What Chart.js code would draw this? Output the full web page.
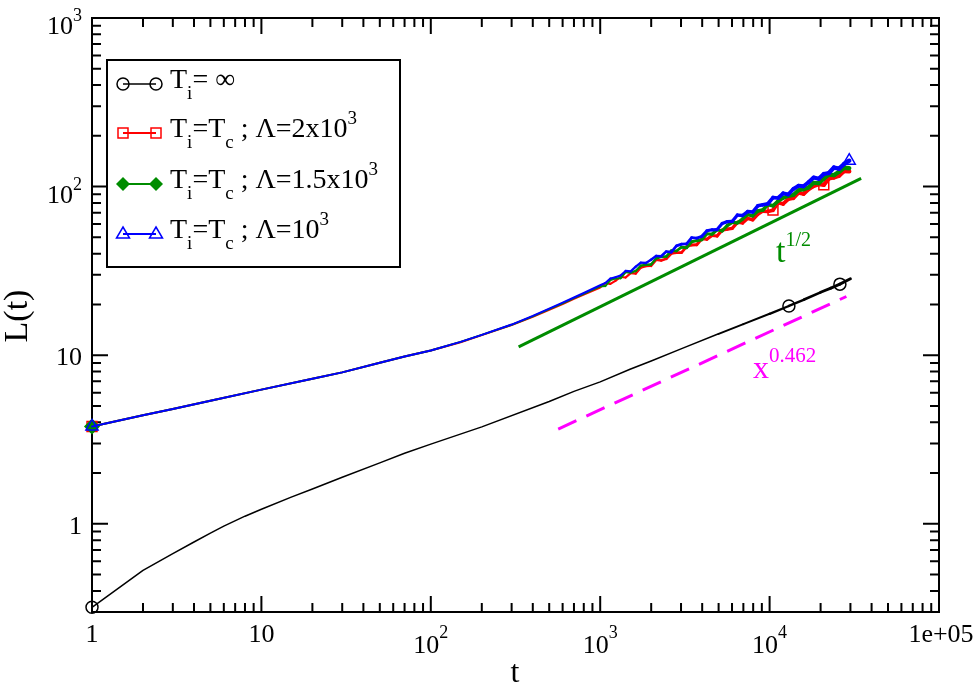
<!DOCTYPE html>
<html>
<head>
<meta charset="utf-8">
<script src="https://cdn.jsdelivr.net/npm/chart.js@4.4.1/dist/chart.umd.min.js"></script>
<style>
  html, body { margin: 0; padding: 0; background: #fff; }
  #wrap { width: 978px; height: 685px; position: relative; }
</style>
</head>
<body>
<div id="wrap"><canvas id="chart"></canvas></div>
<script>
// ---- data ----
const blackT = [1, 2, 3, 4, 5, 6, 8, 10, 15, 20, 30, 50, 70, 100, 200, 500, 700, 1000, 1500, 2000, 3000, 5000, 7000, 10000, 13000, 16000, 20000, 23000, 26000, 30000]
const blackL = [0.32, 0.53, 0.665, 0.78, 0.88, 0.97, 1.11, 1.22, 1.44, 1.61, 1.89, 2.30, 2.62, 2.97, 3.76, 5.32, 6.1, 6.95, 8.25, 9.25, 10.9, 13.4, 15.3, 17.6, 19.6, 21.4, 23.6, 25.0, 26.4, 28.4]
const blackMarks = [1, 13000, 26000]

const curveT = [1, 2, 3, 5, 10, 20, 30, 50, 70, 100, 150, 200, 300, 400, 500, 600, 700, 800,
  1000, 1072, 1148, 1230, 1318, 1413, 1514, 1622, 1738, 1862,
  1995, 2138, 2291, 2455, 2630, 2818, 3020, 3236, 3467, 3715,
  3981, 4266, 4571, 4898, 5248, 5623, 6026, 6457, 6918, 7413,
  7943, 8511, 9120, 9772, 10471, 11220, 12023, 12882, 13804, 14791,
  15849, 16982, 18197, 19498, 20893, 22387, 23988, 25704, 27542, 29512]
const redL = [3.78, 4.40, 4.80, 5.37, 6.25, 7.26, 7.91, 9.02, 9.82, 10.67, 11.95, 13.15, 15.1, 16.9, 18.6, 20.1, 21.6, 22.9,
  25.2, 26.7, 26.5, 27.6, 29.1, 28.9, 30.7, 30.5, 33.1, 33.8,
  33.9, 36.8, 36.5, 37.3, 40.1, 40.6, 40.6, 44.1, 45.1, 45.2,
  49.1, 48.7, 51.3, 50.9, 55.2, 55.9, 56.6, 61.4, 60.9, 64.8,
  63.6, 68.6, 71.6, 71.2, 72.5, 80.2, 78.9, 84.2, 85.4, 91.9,
  90.5, 96.5, 100.8, 103.3, 102.5, 111.7, 113.3, 116.1, 123.8, 123.1]
const greenL = [3.78, 4.40, 4.80, 5.37, 6.25, 7.26, 7.91, 9.02, 9.82, 10.67, 12.0, 13.2, 15.15, 17.0, 18.75, 20.3, 21.8, 23.15,
  25.6, 25.7, 27.9, 28.5, 28.6, 31.1, 30.9, 31.6, 34.0, 34.4,
  34.5, 37.5, 38.3, 38.5, 41.7, 41.5, 43.7, 43.4, 47.1, 47.8,
  48.4, 52.5, 52.2, 55.5, 54.6, 58.8, 61.3, 60.9, 64.2, 68.3,
  67.1, 71.6, 72.6, 78.2, 77.0, 82.1, 85.8, 87.9, 89.2, 95.1,
  96.4, 98.8, 105.3, 104.8, 111.6, 117.8, 117.1, 122.5, 129.3, 128.6]
const blueL = [3.78, 4.40, 4.80, 5.37, 6.25, 7.26, 7.91, 9.02, 9.82, 10.67, 12.0, 13.2, 15.2, 17.1, 18.9, 20.5, 22.0, 23.4,
  26.0, 26.8, 28.5, 29.0, 29.7, 31.6, 31.4, 33.5, 35.4, 35.2,
  36.8, 38.8, 38.6, 41.2, 40.9, 44.5, 45.6, 45.8, 49.8, 49.5,
  50.7, 54.7, 55.4, 55.6, 60.5, 62.0, 62.3, 67.8, 67.4, 71.1,
  70.7, 76.9, 78.0, 79.1, 86.1, 85.6, 91.3, 89.8, 96.8, 101.1,
  100.5, 106.2, 113.1, 111.4, 118.8, 120.5, 129.7, 127.7, 136.2, 142.4]
const redMarks = [1, 10471, 20893]
const greenMarks = [1]
const blueMarks = [1, 29512]

// guide lines
const halfT = [330, 34700]
const halfL = [11.2, 112]
const fitT = [565, 28400]
const fitL = [3.65, 22.3]

// tick labels: [base, superscript]
const xTickVals = [1, 10, 100, 1000, 10000, 100000]
const xTickLabels = [["1"], ["10"], ["10", "2"], ["10", "3"], ["10", "4"], ["1e+05"]]
const yTickVals = [1, 10, 100, 1000]
const yTickLabels = [["1"], ["10"], ["10", "2"], ["10", "3"]]

const FONT = '"Liberation Serif", "DejaVu Serif", serif'
const GREEN = "rgb(0,140,0)"

const pts = (ts, ls) => ts.map((t, i) => ({ x: t, y: ls[i] }))

// the noisy tail of the runs looks thicker: widen the stroke there
const noisyWidth = (base, extra, from) => (ctx) => {
  const t = ctx.p0.parsed.x
  if (t < from) return base
  return base + extra * Math.min(1, (Math.log10(t) - Math.log10(from)) / (4.47 - Math.log10(from)))
}

function series(label, ts, ls, color, width, extra, from, style, radius, marks, filled, order) {
  return {
    label: label,
    data: pts(ts, ls),
    borderColor: color,
    borderWidth: width,
    segment: { borderWidth: noisyWidth(width, extra, from) },
    borderJoinStyle: "round",
    borderCapStyle: "round",
    pointStyle: style,
    pointRadius: (ctx) => (ctx.raw && marks.includes(ctx.raw.x) ? radius : 0),
    pointBorderColor: color,
    pointBackgroundColor: filled ? color : "rgba(0,0,0,0)",
    pointBorderWidth: 1.5,
    tension: 0,
    clip: false,
    order: order,
  }
}

function rich(ctx, parts, x, y, align) {
  let w = 0
  parts.forEach((p) => {
    ctx.font = p[1] + "px " + FONT
    w += ctx.measureText(p[0]).width
  })
  let cx = align === "right" ? x - w : align === "center" ? x - w / 2 : x
  parts.forEach((p) => {
    ctx.font = p[1] + "px " + FONT
    ctx.fillText(p[0], cx, y + p[2])
    cx += ctx.measureText(p[0]).width
  })
}

function mark(ctx, style, x, y, color) {
  ctx.strokeStyle = color
  ctx.fillStyle = color
  ctx.lineWidth = 1.5
  ctx.beginPath()
  if (style === "circle") {
    ctx.arc(x, y, 6, 0, Math.PI * 2)
    ctx.stroke()
  } else if (style === "rect") {
    ctx.rect(x - 5, y - 5, 10, 10)
    ctx.stroke()
  } else if (style === "rectRot") {
    ctx.moveTo(x - 7, y); ctx.lineTo(x, y - 7); ctx.lineTo(x + 7, y); ctx.lineTo(x, y + 7)
    ctx.closePath()
    ctx.fill()
  } else {
    ctx.moveTo(x, y - 7); ctx.lineTo(x + 6.5, y + 4); ctx.lineTo(x - 6.5, y + 4)
    ctx.closePath()
    ctx.stroke()
  }
}

// frame + inward ticks (grace style), labels, legend
const frame = {
  id: "frame",
  beforeDatasetsDraw(chart) {
    const { ctx, chartArea: a, scales: { x, y } } = chart
    ctx.save()
    ctx.strokeStyle = "#000"
    ctx.lineWidth = 2
    ctx.strokeRect(a.left, a.top, a.right - a.left, a.bottom - a.top)
    ctx.beginPath()
    for (let n = 0; n <= 5; n++) {
      for (let m = 1; m <= 9; m++) {
        const v = m * Math.pow(10, n)
        if (v > 100000) break
        const px = x.getPixelForValue(v)
        const len = m === 1 ? 16 : 9
        ctx.moveTo(px, a.bottom); ctx.lineTo(px, a.bottom - len)
        ctx.moveTo(px, a.top); ctx.lineTo(px, a.top + len)
      }
    }
    for (let n = -1; n <= 3; n++) {
      for (let m = 1; m <= 9; m++) {
        const v = m * Math.pow(10, n)
        if (v < y.min || v > y.max * 1.0001) continue
        const py = y.getPixelForValue(v)
        const len = m === 1 ? 16 : 9
        ctx.moveTo(a.left, py); ctx.lineTo(a.left + len, py)
        ctx.moveTo(a.right, py); ctx.lineTo(a.right - len, py)
      }
    }
    ctx.stroke()
    ctx.restore()
  },
  afterDraw(chart) {
    const { ctx, chartArea: a, scales: { x, y } } = chart
    ctx.save()
    ctx.fillStyle = "#000"
    ctx.textBaseline = "alphabetic"
    ctx.textAlign = "left"
    // x tick labels
    xTickVals.forEach((v, i) => {
      const lab = xTickLabels[i]
      const px = x.getPixelForValue(v) + (lab[0] === "1e+05" ? 2 : 0)
      if (lab.length === 2) rich(ctx, [[lab[0], 26, 0], [lab[1], 18, -15]], px, a.bottom + 41, "center")
      else rich(ctx, [[lab[0], 26, 0]], px, a.bottom + 30, "center")
    })
    // y tick labels
    yTickVals.forEach((v, i) => {
      const lab = yTickLabels[i]
      const py = y.getPixelForValue(v)
      if (lab.length === 2) rich(ctx, [[lab[0], 26, 0], [lab[1], 18, -13]], a.left - 10, py + 16, "right")
      else rich(ctx, [[lab[0], 26, 0]], a.left - 10, py + 10, "right")
    })
    // axis titles
    ctx.font = "32px " + FONT
    ctx.textAlign = "center"
    ctx.fillText("t", 515, 682)
    ctx.save()
    ctx.font = "34px " + FONT
    ctx.translate(27, 316)
    ctx.rotate(-Math.PI / 2)
    ctx.fillText("L(t)", 0, 0)
    ctx.restore()
    ctx.textAlign = "left"
    // guide labels
    ctx.fillStyle = GREEN
    rich(ctx, [["t", 34, 0], ["1/2", 20, -16]], 776, 262, "left")
    ctx.fillStyle = "#ff00ff"
    rich(ctx, [["x", 32, 0], ["0.462", 21, -16]], 753, 378, "left")

    // legend box
    ctx.fillStyle = "#fff"
    ctx.fillRect(107, 60, 293, 207)
    ctx.strokeStyle = "#000"
    ctx.lineWidth = 2
    ctx.strokeRect(107, 60, 293, 207)
    const rows = [
      { y: 84, color: "#000", style: "circle", parts: [["T", 28, 0], ["i", 19, 11], ["= \u221E", 28, 0]] },
      { y: 133, color: "#ff0000", style: "rect", parts: [["T", 28, 0], ["i", 19, 11], ["=T", 28, 0], ["c", 19, 11], [" ; \u039B=2x10", 28, 0], ["3", 19, -13]] },
      { y: 184, color: GREEN, style: "rectRot", parts: [["T", 28, 0], ["i", 19, 11], ["=T", 28, 0], ["c", 19, 11], [" ; \u039B=1.5x10", 28, 0], ["3", 19, -13]] },
      { y: 234, color: "#0000ff", style: "triangle", parts: [["T", 28, 0], ["i", 19, 11], ["=T", 28, 0], ["c", 19, 11], [" ; \u039B=10", 28, 0], ["3", 19, -13]] },
    ]
    rows.forEach((r) => {
      ctx.strokeStyle = r.color
      ctx.lineWidth = r.color === "#000" ? 1.5 : 2
      ctx.beginPath()
      ctx.moveTo(123, r.y); ctx.lineTo(156, r.y)
      ctx.stroke()
      mark(ctx, r.style, 123, r.y, r.color)
      mark(ctx, r.style, 156, r.y, r.color)
      ctx.fillStyle = "#000"
      rich(ctx, r.parts, 170, r.y + 4, "left")
    })
    ctx.restore()
  },
}

new Chart(document.getElementById("chart"), {
  type: "line",
  data: {
    datasets: [
      series("T_i = inf", blackT, blackL, "#000", 1.5, 1.5, 3000, "circle", 6, blackMarks, false, 4),
      series("T_i=T_c ; L=2x10^3", curveT, redL, "#ff0000", 2, 2.5, 1000, "rect", 7, redMarks, false, 3),
      series("T_i=T_c ; L=1.5x10^3", curveT, greenL, GREEN, 2, 2.5, 1000, "rectRot", 7, greenMarks, true, 2),
      series("T_i=T_c ; L=10^3", curveT, blueL, "#0000ff", 2, 2.5, 1000, "triangle", 7, blueMarks, false, 1),
      {
        label: "t^1/2",
        data: pts(halfT, halfL),
        borderColor: GREEN,
        borderWidth: 3,
        pointRadius: 0,
        tension: 0,
        order: 5,
      },
      {
        label: "x^0.462",
        data: pts(fitT, fitL),
        borderColor: "#ff00ff",
        borderWidth: 3,
        borderDash: [20, 11],
        pointRadius: 0,
        tension: 0,
        order: 5,
      },
    ],
  },
  options: {
    responsive: true,
    maintainAspectRatio: false,
    animation: false,
    devicePixelRatio: 1,
    layout: { padding: { left: 92, right: 39, top: 18, bottom: 73 } },
    plugins: { legend: { display: false }, tooltip: { enabled: false } },
    scales: {
      x: { type: "logarithmic", min: 1, max: 100000, display: false },
      y: { type: "logarithmic", min: 0.31623, max: 1000, display: false },
    },
  },
  plugins: [frame],
})
</script>
</body>
</html>
